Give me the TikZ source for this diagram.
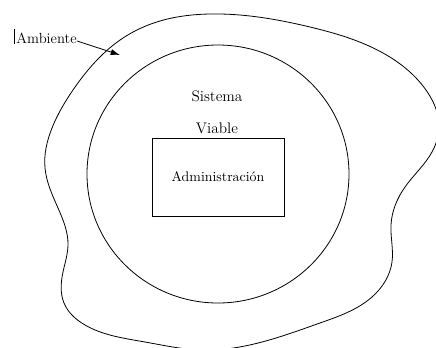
\documentclass[tikz,border=0pt]{standalone}
\usetikzlibrary{arrows.meta,hobby}

\begin{document}
\begin{tikzpicture}[x=0.75pt,y=-0.75pt, line width=0.6pt,
  every node/.style={font=\fontsize{11.5}{14}\selectfont, inner sep=0pt}]
  \useasboundingbox (0,0) rectangle (436,347);
  \clip (0,0) rectangle (436,347);

  % ambiente
  \draw[use Hobby shortcut, closed=true]
    (210,14) .. (310,27) .. (383,53) .. (428,93) .. (439,124) .. (432,152)
    .. (405,187) .. (391,225) .. (392,262) .. (372,297) .. (320,323)
    .. (262,342) .. (200,350) .. (145,342) .. (85,325) .. (64,303)
    .. (63,272) .. (68,245) .. (58,208) .. (45,168) .. (52,128)
    .. (73,90) .. (97,60) .. (123,38) .. (160,21);

  % sistema viable
  \draw (218,174) ellipse [x radius=98.25pt, y radius=96.75pt];
  \node[draw, minimum width=99pt, minimum height=58.5pt,
    font=\fontsize{10.4}{13}\selectfont] (admin) at (218,177) {Administración};
  \node[anchor=base] (sistema) at (217,101) {Sistema};
  \node[anchor=base] (viable) at (217,133) {Viable};

  \node[anchor=base west, font=\fontsize{11}{13}\selectfont] (ambiente) at (16,43) {Ambiente};
  \draw[line width=0.5pt] (14,29) -- (14,44);
  \coordinate (flecha) at (120,55);
  \draw[-{Latex[length=7pt,width=4.5pt]}] ([yshift=1.5pt]ambiente.base east) -- (flecha);
\end{tikzpicture}
\end{document}
